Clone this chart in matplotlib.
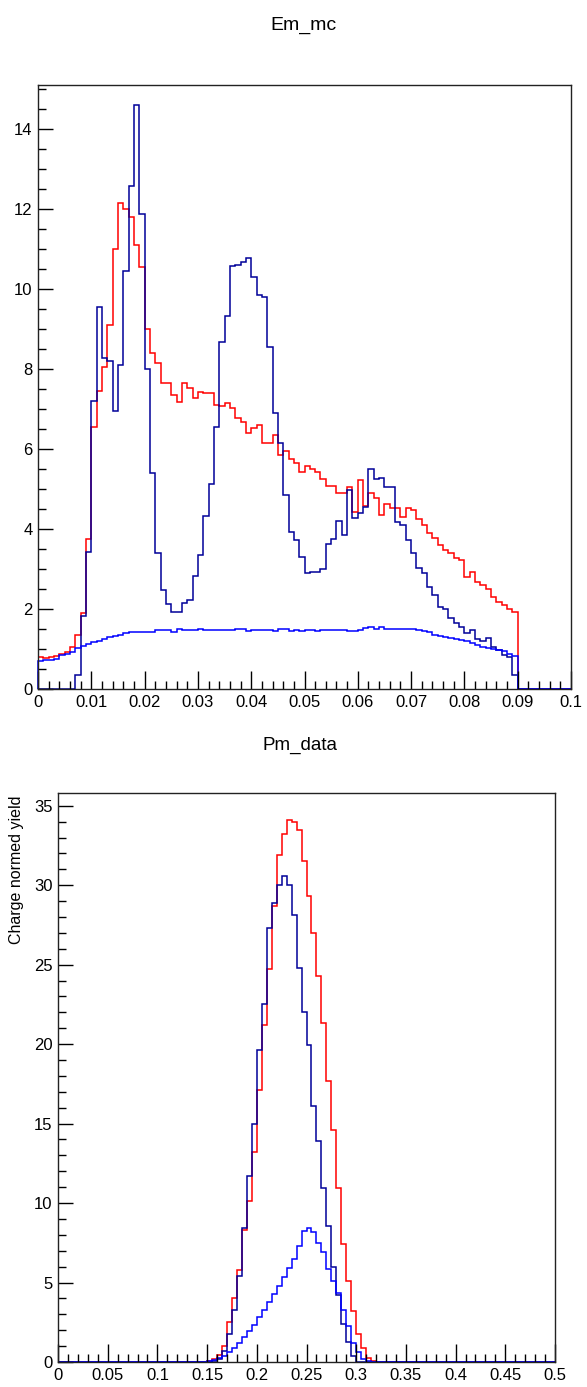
import numpy as np
import matplotlib.pyplot as plt
from matplotlib.ticker import MultipleLocator

plt.rcParams['font.family'] = ['Liberation Sans', 'DejaVu Sans']

# Em_mc: 100 bins from 0 to 0.1
em_edges = np.linspace(0, 0.1, 101)
em_red = [
    0.80, 0.78, 0.80, 0.82, 0.88, 0.92, 1.05, 1.35, 1.90, 3.75,
    6.55, 7.45, 8.05, 9.10, 11.0, 12.15, 12.0, 11.8, 11.1, 10.55,
    9.0, 8.4, 8.15, 7.65, 7.66, 7.35, 7.18, 7.66, 7.52, 7.27,
    7.43, 7.39, 7.39, 7.10, 7.08, 7.14, 7.02, 6.77, 6.68, 6.39,
    6.52, 6.60, 6.14, 6.14, 6.35, 5.85, 5.96, 5.75, 5.66, 5.43,
    5.57, 5.49, 5.43, 5.26, 5.07, 5.07, 4.89, 4.89, 5.04, 4.43,
    5.23, 4.58, 4.89, 4.77, 4.35, 4.63, 4.52, 4.52, 4.31, 4.52,
    4.48, 4.25, 4.10, 3.89, 3.77, 3.60, 3.48, 3.39, 3.27, 3.23,
    2.80, 2.93, 2.68, 2.60, 2.49, 2.31, 2.18, 2.10, 1.99, 1.92,
    0, 0, 0, 0, 0, 0, 0, 0, 0, 0,
]
em_navy = [
    0, 0, 0, 0, 0, 0, 0, 0.35, 1.83, 3.43,
    7.2, 9.54, 8.28, 8.19, 6.95, 8.09, 10.45, 12.57, 14.6, 11.88,
    7.99, 5.4, 3.4, 2.47, 2.12, 1.93, 1.93, 2.16, 2.22, 2.83,
    3.36, 4.32, 5.12, 6.55, 8.68, 9.32, 10.58, 10.6, 10.68, 10.77,
    10.31, 9.85, 9.79, 8.56, 6.89, 6.14, 4.85, 3.93, 3.73, 3.31,
    2.89, 2.92, 2.93, 2.99, 3.63, 3.75, 4.21, 3.84, 4.97, 4.27,
    4.39, 4.56, 5.49, 5.24, 5.27, 5.06, 5.05, 4.18, 4.10, 3.73,
    3.39, 3.02, 2.90, 2.56, 2.35, 2.06, 2.00, 1.77, 1.64, 1.56,
    1.41, 1.47, 1.24, 1.21, 1.27, 1.06, 0.98, 0.85, 0.81, 0.35,
    0, 0, 0, 0, 0, 0, 0, 0, 0, 0,
]
em_blue = [
    0.71, 0.72, 0.72, 0.75, 0.86, 0.88, 0.93, 1.02, 1.07, 1.12,
    1.17, 1.21, 1.25, 1.29, 1.33, 1.35, 1.40, 1.43, 1.43, 1.43,
    1.43, 1.43, 1.48, 1.48, 1.48, 1.43, 1.50, 1.48, 1.48, 1.48,
    1.51, 1.48, 1.48, 1.48, 1.48, 1.48, 1.48, 1.51, 1.51, 1.45,
    1.48, 1.48, 1.48, 1.48, 1.45, 1.51, 1.51, 1.45, 1.48, 1.44,
    1.48, 1.48, 1.45, 1.48, 1.48, 1.48, 1.48, 1.48, 1.44, 1.44,
    1.48, 1.52, 1.55, 1.50, 1.54, 1.50, 1.50, 1.50, 1.50, 1.50,
    1.50, 1.48, 1.46, 1.42, 1.36, 1.33, 1.31, 1.27, 1.24, 1.22,
    1.20, 1.14, 1.10, 1.06, 1.02, 0.99, 0.97, 0.94, 0.88, 0.82,
    0, 0, 0, 0, 0, 0, 0, 0, 0, 0,
]

# Pm_data: 100 bins from 0 to 0.5
pm_edges = np.linspace(0, 0.5, 101)
pm_red = [
    0, 0, 0, 0, 0, 0, 0, 0, 0, 0,
    0, 0, 0, 0, 0, 0, 0, 0, 0, 0,
    0, 0, 0, 0, 0, 0, 0, 0, 0, 0,
    0.05, 0.2, 0.42, 1.0, 2.5, 4.0, 5.8, 8.3, 10.1, 13.2,
    17.1, 21.2, 24.7, 28.7, 31.9, 33.2, 34.1, 34.0, 33.5, 31.55,
    29.3, 27.0, 24.3, 21.3, 17.7, 14.6, 10.97, 7.41, 5.1, 3.21,
    1.74, 0.9, 0.27, 0.05, 0, 0, 0, 0, 0, 0,
    0, 0, 0, 0, 0, 0, 0, 0, 0, 0,
    0, 0, 0, 0, 0, 0, 0, 0, 0, 0,
    0, 0, 0, 0, 0, 0, 0, 0, 0, 0,
]
pm_navy = [
    0, 0, 0, 0, 0, 0, 0, 0, 0, 0,
    0, 0, 0, 0, 0, 0, 0, 0, 0, 0,
    0, 0, 0, 0, 0, 0, 0, 0, 0, 0,
    0, 0.05, 0.17, 0.69, 1.74, 3.3, 5.42, 8.46, 11.71, 14.97,
    19.6, 22.5, 27.3, 28.9, 30.0, 30.6, 30.0, 28.1, 24.8, 22.0,
    19.94, 16.1, 13.9, 10.97, 8.57, 5.95, 4.2, 2.4, 1.25, 0.38,
    0, 0, 0, 0, 0, 0, 0, 0, 0, 0,
    0, 0, 0, 0, 0, 0, 0, 0, 0, 0,
    0, 0, 0, 0, 0, 0, 0, 0, 0, 0,
    0, 0, 0, 0, 0, 0, 0, 0, 0, 0,
]
pm_blue = [
    0, 0, 0, 0, 0, 0, 0, 0, 0, 0,
    0, 0, 0, 0, 0, 0, 0, 0, 0, 0,
    0, 0, 0, 0, 0, 0, 0, 0, 0, 0.02,
    0.05, 0.11, 0.25, 0.4, 0.63, 0.9, 1.2, 1.55, 1.95, 2.35,
    2.8, 3.25, 3.75, 4.25, 4.8, 5.35, 5.9, 6.5, 7.3, 8.25,
    8.4, 8.15, 7.5, 6.9, 5.85, 5.1, 4.35, 3.3, 2.25, 1.22,
    0.6, 0.17, 0.05, 0, 0, 0, 0, 0, 0, 0,
    0, 0, 0, 0, 0, 0, 0, 0, 0, 0,
    0, 0, 0, 0, 0, 0, 0, 0, 0, 0,
    0, 0, 0, 0, 0, 0, 0, 0, 0, 0,
]

em_xticks = [0, 0.01, 0.02, 0.03, 0.04, 0.05, 0.06, 0.07, 0.08, 0.09, 0.1]
em_xlabels = ['0', '0.01', '0.02', '0.03', '0.04', '0.05', '0.06', '0.07', '0.08', '0.09', '0.1']
pm_xticks = [0, 0.05, 0.1, 0.15, 0.2, 0.25, 0.3, 0.35, 0.4, 0.45, 0.5]
pm_xlabels = ['0', '0.05', '0.1', '0.15', '0.2', '0.25', '0.3', '0.35', '0.4', '0.45', '0.5']

RED = '#ff0000'
NAVY = '#000099'
BLUE = '#0000ff'


def style_axes(ax):
	ax.tick_params(which='both', direction='in', top=False, right=False, labelsize=12)
	ax.tick_params(axis='x', which='major', length=13, width=1.0, pad=4)
	ax.tick_params(axis='x', which='minor', length=6, width=1.0)
	ax.tick_params(axis='y', which='major', length=11, width=1.0, pad=4)
	ax.tick_params(axis='y', which='minor', length=5.5, width=1.0)
	for s in ax.spines.values():
		s.set_linewidth(1.0)
		s.set_color('#222222')


fig = plt.figure(figsize=(5.87, 13.87), dpi=100)

# top panel
ax1 = fig.add_axes([38 / 587, 1 - 689 / 1387, 533 / 587, 604 / 1387])
ax1.stairs(em_red, em_edges, color=RED, lw=1.1)
ax1.stairs(em_navy, em_edges, color=NAVY, lw=1.1)
ax1.stairs(em_blue, em_edges, color=BLUE, lw=1.1, clip_on=False)
ax1.set_xlim(0, 0.1)
ax1.set_ylim(0, 15.1)
ax1.set_xticks(em_xticks)
ax1.set_xticklabels(em_xlabels)
ax1.xaxis.set_minor_locator(MultipleLocator(0.002))
ax1.set_yticks([0, 2, 4, 6, 8, 10, 12, 14])
ax1.yaxis.set_minor_locator(MultipleLocator(0.5))
style_axes(ax1)

# bottom panel
ax2 = fig.add_axes([58 / 587, 1 - 1362 / 1387, 497 / 587, 569 / 1387])
ax2.stairs(pm_red, pm_edges, color=RED, lw=1.1)
ax2.stairs(pm_navy, pm_edges, color=NAVY, lw=1.1)
ax2.stairs(pm_blue, pm_edges, color=BLUE, lw=1.1, clip_on=False)
ax2.set_xlim(0, 0.5)
ax2.set_ylim(0, 35.8)
ax2.set_xticks(pm_xticks)
ax2.set_xticklabels(pm_xlabels)
ax2.xaxis.set_minor_locator(MultipleLocator(0.01))
ax2.set_yticks([0, 5, 10, 15, 20, 25, 30, 35])
ax2.yaxis.set_minor_locator(MultipleLocator(1))
style_axes(ax2)

fig.text(303 / 587, 1 - 25 / 1387, 'Em_mc', ha='center', va='center', fontsize=14)
fig.text(300 / 587, 1 - 745 / 1387, 'Pm_data', ha='center', va='center', fontsize=13.5)
fig.text(17 / 587, 1 - 796 / 1387, 'Charge normed yield', rotation=90,
         ha='center', va='top', fontsize=11.5)

fig.savefig('out.png', dpi=100)
